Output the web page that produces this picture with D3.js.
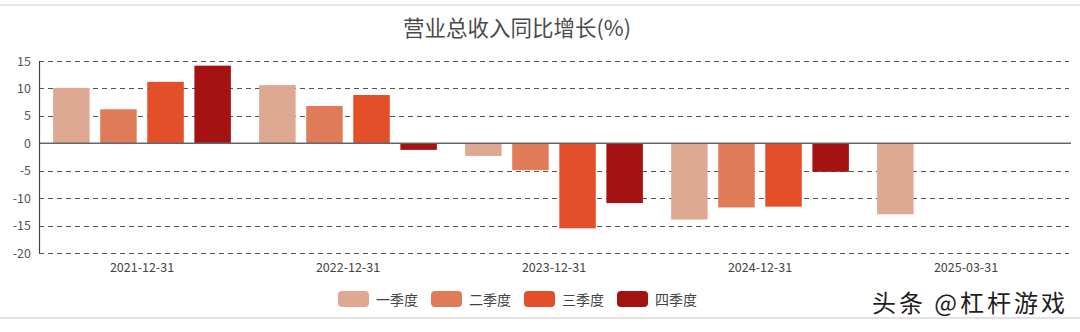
<!DOCTYPE html>
<html>
<head>
<meta charset="utf-8">
<script src="https://cdn.jsdelivr.net/npm/d3@7/dist/d3.min.js"></script>
<style>
  html, body { margin: 0; padding: 0; background: #fff; }
  svg { display: block; font-family: "Noto Sans CJK SC", "Open Sans", sans-serif; }
</style>
</head>
<body>
<svg id="chart" width="1080" height="332"></svg>
<script>
// Year-over-year growth of total operating revenue (%), by reporting period and quarter
const periods = ["2021-12-31", "2022-12-31", "2023-12-31", "2024-12-31", "2025-03-31"];
const quarters = ["一季度", "二季度", "三季度", "四季度"];
const q1 = [10.1, 10.6, -2.3, -13.9, -12.95];
const q2 = [6.2, 6.8, -4.9, -11.7, null];
const q3 = [11.2, 8.8, -15.5, -11.55, null];
const q4 = [14.15, -1.2, -10.9, -5.2, null];
const yTicks = [15, 10, 5, 0, -5, -10, -15, -20];
const colors = ["#dfa893", "#e07b5a", "#e34f29", "#a41212"];

const series = [q1, q2, q3, q4];
const rows = periods.map((p, i) => ({
  period: p,
  values: quarters.map((q, j) => ({ quarter: q, value: series[j][i] }))
}));

const svg = d3.select("#chart");
const W = 1080;

// frame lines
svg.append("rect").attr("x", 0).attr("y", 4).attr("width", W).attr("height", 2).attr("fill", "#e8e8e8");
svg.append("rect").attr("x", 0).attr("y", 317).attr("width", W).attr("height", 2).attr("fill", "#e2e2e2");

// title
svg.append("text")
  .attr("x", 517).attr("y", 36)
  .attr("text-anchor", "middle")
  .attr("font-size", 21.5)
  .attr("fill", "#4a4a4a")
  .text("营业总收入同比增长(%)");

const plotLeft = 39, plotRight = 1069, plotTop = 61, plotBottom = 253;

const x0 = d3.scaleBand().domain(periods).range([plotLeft, plotRight]).padding(0);
const x1 = d3.scaleBand().domain(quarters).range([0, x0.bandwidth()])
  .paddingInner(0.225).paddingOuter(0.3);
const y = d3.scaleLinear().domain([-20, 15]).range([plotBottom, plotTop]);

// dashed grid
svg.append("g").selectAll("line")
  .data(yTicks.filter(t => t !== 0))
  .join("line")
  .attr("x1", plotLeft).attr("x2", plotRight)
  .attr("y1", d => Math.round(y(d)) + 0.5).attr("y2", d => Math.round(y(d)) + 0.5)
  .attr("stroke", "#555").attr("stroke-width", 1.2)
  .attr("stroke-dasharray", "5,4");

// y axis labels
svg.append("g").selectAll("text")
  .data(yTicks)
  .join("text")
  .attr("x", 31).attr("y", d => y(d) + 4.5)
  .attr("text-anchor", "end")
  .attr("font-size", 12.5)
  .attr("fill", "#555")
  .text(d => d);

// bars
const groups = svg.append("g").selectAll("g")
  .data(rows)
  .join("g")
  .attr("transform", d => `translate(${x0(d.period)},0)`);

groups.selectAll("rect")
  .data(d => d.values.filter(v => v.value !== null))
  .join("rect")
  .attr("x", d => x1(d.quarter))
  .attr("width", x1.bandwidth())
  .attr("y", d => y(Math.max(0, d.value)))
  .attr("height", d => Math.abs(y(d.value) - y(0)))
  .attr("fill", d => colors[quarters.indexOf(d.quarter)]);

// zero line and y axis line
svg.append("line")
  .attr("x1", plotLeft).attr("x2", plotRight + 2)
  .attr("y1", y(0)).attr("y2", y(0))
  .attr("stroke", "#666").attr("stroke-width", 1.5);
svg.append("line")
  .attr("x1", plotLeft + 0.5).attr("x2", plotLeft + 0.5)
  .attr("y1", plotTop).attr("y2", plotBottom)
  .attr("stroke", "#444").attr("stroke-width", 1.2);

// x axis labels
svg.append("g").selectAll("text")
  .data(periods)
  .join("text")
  .attr("x", d => x0(d) + x0.bandwidth() / 2)
  .attr("y", 272)
  .attr("text-anchor", "middle")
  .attr("font-size", 12.5)
  .attr("fill", "#444")
  .text(d => d);

// legend
const legend = svg.append("g").selectAll("g")
  .data(quarters)
  .join("g")
  .attr("transform", (d, i) => `translate(${338 + i * 93},291)`);
legend.append("rect")
  .attr("width", 31).attr("height", 16).attr("rx", 4)
  .attr("fill", (d, i) => colors[i]);
legend.append("text")
  .attr("x", 38).attr("y", 13.5)
  .attr("font-size", 14)
  .attr("fill", "#444")
  .text(d => d);

// watermark
svg.append("text")
  .attr("x", 1068).attr("y", 312)
  .attr("text-anchor", "end")
  .attr("font-size", 24)
  .attr("letter-spacing", 3)
  .attr("fill", "#1e1e1e")
  .attr("stroke", "#fff").attr("stroke-width", 1.5)
  .attr("paint-order", "stroke")
  .text("头条 @杠杆游戏");
</script>
</body>
</html>
